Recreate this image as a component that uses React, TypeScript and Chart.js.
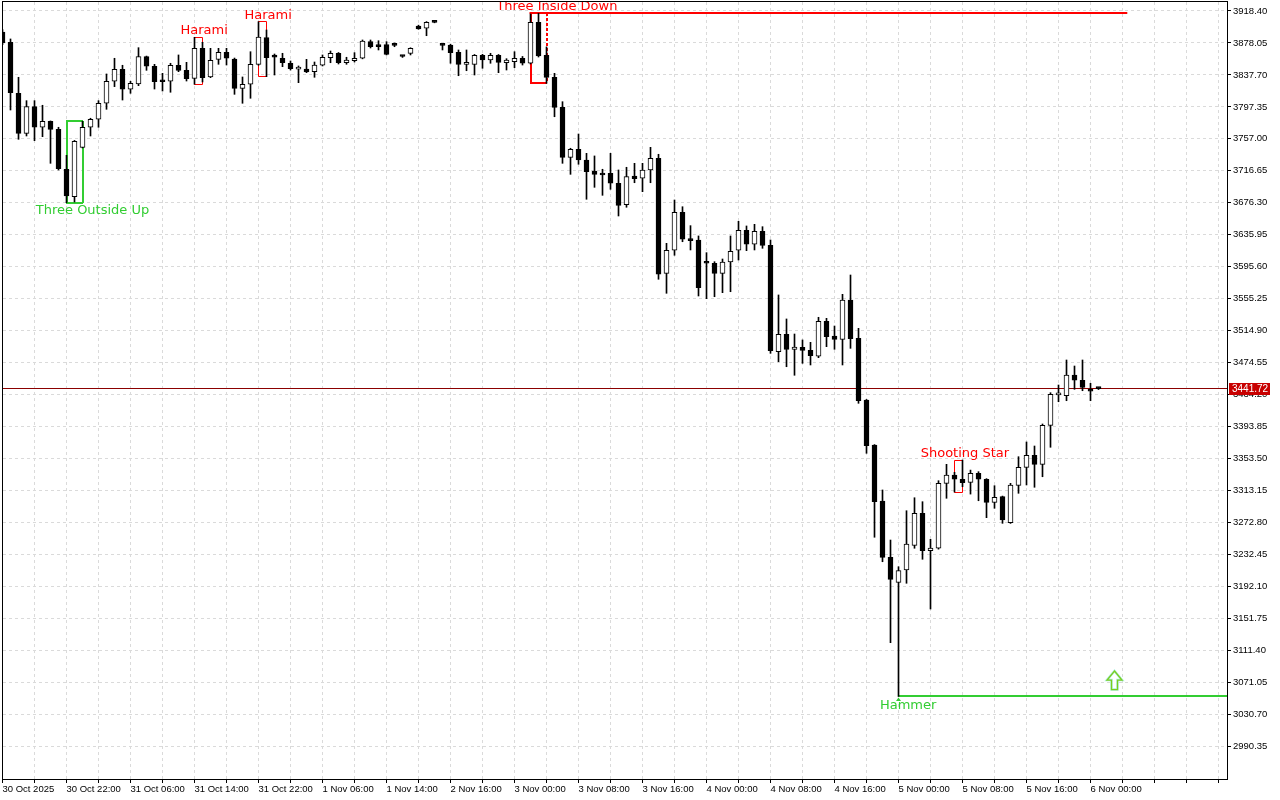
import React, { useEffect, useRef } from 'react';
import { Chart, registerables } from 'chart.js';

Chart.register(...registerables);

// ---- hourly candles (index 0 = 30 Oct 14:00) ----
const OPEN = [
  3891.9, 3878.9, 3814.5, 3764.0, 3797.6, 3771.6, 3779.2, 3769.0, 3718.6, 3683.9,
  3746.3, 3771.6, 3781.7, 3801.9, 3829.7, 3844.8, 3819.6, 3826.2, 3860.7, 3848.6,
  3829.6, 3829.7, 3849.9, 3843.5, 3833.4, 3871.3, 3835.1, 3857.4, 3866.3, 3857.8,
  3820.8, 3825.9, 3851.1, 3884.7, 3862.9, 3858.7, 3852.4, 3845.0, 3845.2, 3841.8,
  3849.9, 3859.5, 3865.0, 3853.1, 3855.7, 3858.7, 3879.7, 3875.9, 3875.9, 3877.6,
  3861.5, 3865.0, 3899.5, 3896.6, 3904.6, 3875.5, 3875.5, 3866.3, 3851.0, 3851.1,
  3862.5, 3856.5, 3862.5, 3853.1, 3854.4, 3858.7, 3852.4, 3904.1, 3862.5, 3834.7,
  3796.8, 3733.7, 3743.8, 3730.3, 3716.4, 3713.5, 3713.5, 3700.9, 3673.9, 3710.1,
  3707.2, 3717.7, 3732.4, 3587.2, 3616.3, 3664.3, 3630.5, 3629.3, 3601.5, 3599.9,
  3587.2, 3601.5, 3616.3, 3641.5, 3623.9, 3640.3, 3622.6, 3488.3, 3510.2, 3491.3,
  3493.8, 3490.0, 3482.5, 3526.7, 3508.1, 3503.9, 3553.5, 3505.2, 3427.3, 3370.5,
  3299.8, 3228.7, 3197.1, 3212.7, 3243.8, 3284.2, 3237.0, 3240.1, 3322.1, 3332.6,
  3327.2, 3323.3, 3334.6, 3327.2, 3298.1, 3305.2, 3272.4, 3319.6, 3342.3, 3357.5,
  3346.1, 3395.3, 3433.7, 3432.7, 3458.9, 3452.2, 3440.8, 3442.5,
];
const HIGH = [
  3895.0, 3883.1, 3834.7, 3805.2, 3805.2, 3799.4, 3779.6, 3771.6, 3736.2, 3755.0,
  3779.2, 3783.0, 3805.2, 3838.9, 3858.7, 3849.9, 3829.7, 3872.1, 3861.5, 3851.1,
  3839.7, 3852.4, 3862.9, 3853.6, 3885.2, 3878.9, 3871.3, 3871.3, 3871.3, 3859.0,
  3835.1, 3867.0, 3904.9, 3894.4, 3864.1, 3865.0, 3855.3, 3849.0, 3857.4, 3854.0,
  3862.9, 3867.9, 3866.0, 3860.0, 3865.8, 3881.8, 3881.8, 3880.9, 3879.7, 3878.0,
  3862.3, 3872.0, 3900.5, 3905.0, 3905.0, 3877.6, 3876.5, 3869.2, 3869.2, 3863.5,
  3863.7, 3865.0, 3863.5, 3858.2, 3867.0, 3861.0, 3914.6, 3915.5, 3873.0, 3839.7,
  3803.9, 3745.1, 3763.1, 3738.7, 3735.4, 3718.6, 3738.7, 3717.7, 3721.1, 3726.1,
  3726.1, 3746.3, 3737.5, 3625.1, 3679.8, 3671.3, 3647.4, 3634.4, 3613.3, 3601.9,
  3605.3, 3634.4, 3652.9, 3647.0, 3649.1, 3646.1, 3629.3, 3559.9, 3529.6, 3510.6,
  3503.1, 3500.1, 3531.7, 3530.4, 3520.7, 3560.7, 3585.1, 3517.8, 3428.0, 3371.0,
  3313.7, 3250.5, 3216.8, 3287.5, 3303.9, 3298.9, 3251.4, 3325.4, 3346.1, 3336.0,
  3351.5, 3338.8, 3336.8, 3328.0, 3319.1, 3306.0, 3322.1, 3355.7, 3374.3, 3369.2,
  3397.0, 3436.5, 3446.2, 3477.8, 3470.2, 3477.8, 3448.4, 3443.0,
];
const LOW = [
  3876.0, 3793.4, 3756.4, 3760.6, 3754.7, 3759.7, 3726.1, 3717.7, 3676.4, 3677.3,
  3745.5, 3760.6, 3771.6, 3794.3, 3822.9, 3806.0, 3814.5, 3824.1, 3843.5, 3819.9,
  3817.4, 3815.8, 3841.8, 3830.0, 3825.9, 3828.8, 3834.2, 3851.1, 3850.2, 3813.2,
  3801.9, 3808.2, 3849.9, 3835.5, 3837.6, 3848.1, 3843.9, 3827.9, 3840.5, 3834.7,
  3849.0, 3853.1, 3851.5, 3851.1, 3854.0, 3858.0, 3871.7, 3869.2, 3862.9, 3873.3,
  3859.8, 3862.9, 3895.3, 3887.2, 3903.5, 3869.2, 3852.4, 3836.7, 3843.0, 3837.6,
  3846.1, 3852.4, 3840.5, 3843.9, 3846.8, 3850.2, 3851.5, 3860.3, 3827.1, 3784.9,
  3726.1, 3712.2, 3724.9, 3680.7, 3695.8, 3685.7, 3693.3, 3659.6, 3670.6, 3701.6,
  3690.3, 3701.6, 3579.7, 3562.0, 3610.0, 3627.1, 3616.7, 3558.6, 3555.2, 3557.7,
  3562.8, 3564.0, 3604.0, 3615.8, 3616.7, 3618.8, 3486.2, 3475.6, 3469.3, 3458.5,
  3473.6, 3471.5, 3480.7, 3494.6, 3491.3, 3471.5, 3492.5, 3423.1, 3360.0, 3254.0,
  3223.1, 3120.9, 3053.0, 3195.9, 3240.1, 3226.2, 3163.4, 3239.0, 3303.2, 3311.1,
  3317.8, 3308.5, 3300.1, 3278.7, 3290.6, 3271.6, 3271.5, 3309.5, 3320.0, 3317.1,
  3330.4, 3367.6, 3425.1, 3426.4, 3440.8, 3439.0, 3426.4, 3440.5,
];
const CLOSE = [
  3878.0, 3815.3, 3764.0, 3797.6, 3771.6, 3779.2, 3769.0, 3719.3, 3684.8, 3753.9,
  3771.6, 3781.7, 3801.9, 3829.7, 3844.8, 3819.6, 3827.1, 3860.7, 3848.6, 3829.1,
  3829.1, 3849.9, 3843.5, 3832.9, 3871.3, 3834.2, 3856.2, 3866.3, 3858.7, 3820.8,
  3825.9, 3851.1, 3885.6, 3859.5, 3860.0, 3853.1, 3845.6, 3846.2, 3841.4, 3850.2,
  3860.0, 3865.0, 3853.1, 3856.5, 3858.7, 3880.5, 3873.3, 3873.3, 3863.7, 3875.1,
  3861.0, 3871.3, 3895.7, 3904.1, 3904.0, 3875.0, 3865.8, 3851.1, 3851.8, 3862.5,
  3856.5, 3862.5, 3853.6, 3856.5, 3858.7, 3852.4, 3904.1, 3861.6, 3834.7, 3796.8,
  3733.7, 3743.8, 3730.3, 3715.5, 3712.2, 3711.4, 3700.9, 3673.1, 3709.2, 3706.7,
  3717.7, 3732.4, 3586.0, 3616.3, 3664.3, 3630.2, 3628.4, 3569.1, 3599.9, 3587.2,
  3601.5, 3615.0, 3641.5, 3623.9, 3640.3, 3622.6, 3489.5, 3510.2, 3491.3, 3494.2,
  3490.0, 3483.2, 3526.7, 3507.2, 3503.9, 3553.5, 3504.7, 3426.4, 3369.6, 3298.9,
  3228.7, 3200.9, 3211.8, 3245.5, 3284.2, 3237.0, 3240.4, 3322.1, 3332.6, 3327.2,
  3322.8, 3334.6, 3327.2, 3298.1, 3304.4, 3275.8, 3320.0, 3342.3, 3357.5, 3346.1,
  3395.3, 3434.5, 3435.6, 3458.9, 3452.2, 3443.3, 3438.3, 3441.72,
];

// ---- axis ticks ----
const X_TICK_INDEX = [0, 8, 16, 24, 32, 40, 48, 56, 64, 72, 80, 88, 96, 104, 112, 120, 128, 136];
const X_TICK_LABELS = [
  '30 Oct 2025', '30 Oct 22:00', '31 Oct 06:00', '31 Oct 14:00', '31 Oct 22:00', '1 Nov 06:00',
  '1 Nov 14:00', '2 Nov 16:00', '3 Nov 00:00', '3 Nov 08:00', '3 Nov 16:00', '4 Nov 00:00',
  '4 Nov 08:00', '4 Nov 16:00', '5 Nov 00:00', '5 Nov 08:00', '5 Nov 16:00', '6 Nov 00:00',
];
const Y_TICKS = [
  3918.40, 3878.05, 3837.70, 3797.35, 3757.00, 3716.65, 3676.30, 3635.95, 3595.60, 3555.25,
  3514.90, 3474.55, 3434.20, 3393.85, 3353.50, 3313.15, 3272.80, 3232.45, 3192.10, 3151.75,
  3111.40, 3071.05, 3030.70, 2990.35,
];
const CURRENT_PRICE = 3441.72;

// ---- candlestick pattern marks ----
const PATTERN_NAMES = ['Three Outside Up', 'Harami', 'Harami', 'Three Inside Down', 'Shooting Star'];
const PATTERN_FIRST = [8, 24, 32, 66, 119];
const PATTERN_LAST = [10, 25, 33, 68, 120];
const PATTERN_BULLISH = [true, false, false, false, false];
const PATTERN_LABEL_AT = [11.25, 25.2, 33.2, 69.3, 120.3];
const RESISTANCE_PATTERN = 3; // Three Inside Down
const RESISTANCE_END = 140.6;
const HAMMER_INDEX = 112;
const HAMMER_LABEL_AT = 113.2;
const SIGNAL_ARROW_AT = 139;
const SIGNAL_ARROW_PRICE = 3085.1;

const GREEN = '#32cd32';
const RED = '#ff0000';
const LABEL_FONT = '13px "DejaVu Sans"';
const AXIS_FONT = { family: 'Liberation Sans', size: 9.5 };

const crisp = (v: number, w: number) => (w % 2 === 1 ? Math.round(v - 0.5) + 0.5 : Math.round(v));

const overlayPlugin = {
  id: 'mt4Overlay',
  beforeDatasetsDraw(chart: any) {
    const { ctx, chartArea: a, scales } = chart;
    const xs = scales.x;
    const ys = scales.y;
    ctx.save();
    ctx.beginPath();
    ctx.rect(a.left, a.top, a.right - a.left, a.bottom - a.top);
    ctx.clip();

    // current price line
    const py = crisp(ys.getPixelForValue(CURRENT_PRICE), 1);
    ctx.strokeStyle = '#8b0000';
    ctx.lineWidth = 1;
    ctx.beginPath();
    ctx.moveTo(a.left, py);
    ctx.lineTo(a.right, py);
    ctx.stroke();

    // pattern boxes
    PATTERN_NAMES.forEach((_name, k) => {
      const i0 = PATTERN_FIRST[k];
      const i1 = PATTERN_LAST[k];
      const hi = Math.max(...HIGH.slice(i0, i1 + 1));
      const lo = Math.min(...LOW.slice(i0, i1 + 1));
      const w = i1 - i0 >= 2 ? 2 : 1;
      const x0 = crisp(xs.getPixelForValue(i0), w);
      const x1 = crisp(xs.getPixelForValue(i1), w);
      const y0 = crisp(ys.getPixelForValue(hi), w);
      const y1 = crisp(ys.getPixelForValue(lo), w);
      ctx.strokeStyle = PATTERN_BULLISH[k] ? GREEN : RED;
      ctx.lineWidth = w;
      ctx.beginPath();
      ctx.moveTo(x1, y0);
      ctx.lineTo(x0, y0);
      ctx.lineTo(x0, y1);
      ctx.lineTo(x1, y1);
      ctx.stroke();
      if (k === RESISTANCE_PATTERN) ctx.setLineDash([3, 2]);
      ctx.beginPath();
      ctx.moveTo(x1, y0);
      ctx.lineTo(x1, y1);
      ctx.stroke();
      ctx.setLineDash([]);
    });

    // resistance line from Three Inside Down
    {
      const k = RESISTANCE_PATTERN;
      const hi = Math.max(...HIGH.slice(PATTERN_FIRST[k], PATTERN_LAST[k] + 1));
      const y = crisp(ys.getPixelForValue(hi), 2);
      ctx.strokeStyle = RED;
      ctx.lineWidth = 2;
      ctx.beginPath();
      ctx.moveTo(xs.getPixelForValue(PATTERN_FIRST[k]) - 1, y);
      ctx.lineTo(xs.getPixelForValue(RESISTANCE_END), y);
      ctx.stroke();
    }
    // support line from Hammer
    {
      const y = crisp(ys.getPixelForValue(LOW[HAMMER_INDEX]), 2);
      ctx.strokeStyle = GREEN;
      ctx.lineWidth = 2;
      ctx.beginPath();
      ctx.moveTo(xs.getPixelForValue(HAMMER_INDEX), y);
      ctx.lineTo(a.right, y);
      ctx.stroke();
    }
    ctx.restore();
  },
  afterDatasetsDraw(chart: any) {
    const { ctx, chartArea: a, scales } = chart;
    const xs = scales.x;
    const ys = scales.y;
    ctx.save();
    ctx.beginPath();
    ctx.rect(a.left, a.top, a.right - a.left, a.bottom - a.top);
    ctx.clip();
    ctx.font = LABEL_FONT;
    ctx.textAlign = 'center';
    PATTERN_NAMES.forEach((name, k) => {
      const i0 = PATTERN_FIRST[k];
      const i1 = PATTERN_LAST[k];
      const x = xs.getPixelForValue(PATTERN_LABEL_AT[k]);
      if (PATTERN_BULLISH[k]) {
        const lo = Math.min(...LOW.slice(i0, i1 + 1));
        ctx.fillStyle = GREEN;
        ctx.textBaseline = 'top';
        ctx.fillText(name, x, ys.getPixelForValue(lo) + 1.5);
      } else {
        const hi = Math.max(...HIGH.slice(i0, i1 + 1));
        ctx.fillStyle = RED;
        ctx.textBaseline = 'alphabetic';
        ctx.fillText(name, x, ys.getPixelForValue(hi) - 3);
      }
    });
    // Hammer label and marker
    {
      const yLow = ys.getPixelForValue(LOW[HAMMER_INDEX]);
      const hx = xs.getPixelForValue(HAMMER_INDEX);
      ctx.fillStyle = GREEN;
      ctx.textBaseline = 'top';
      ctx.fillText('Hammer', xs.getPixelForValue(HAMMER_LABEL_AT), yLow + 3);
      ctx.beginPath();
      ctx.moveTo(hx, yLow + 1);
      ctx.lineTo(hx - 2.5, yLow + 4.5);
      ctx.lineTo(hx + 2.5, yLow + 4.5);
      ctx.closePath();
      ctx.fill();
    }
    // signal up arrow
    {
      const cx = xs.getPixelForValue(SIGNAL_ARROW_AT);
      const ty = ys.getPixelForValue(SIGNAL_ARROW_PRICE);
      const path = () => {
        ctx.beginPath();
        ctx.moveTo(cx, ty);
        ctx.lineTo(cx + 7.5, ty + 9);
        ctx.lineTo(cx + 3, ty + 9);
        ctx.lineTo(cx + 3, ty + 18.5);
        ctx.lineTo(cx - 3, ty + 18.5);
        ctx.lineTo(cx - 3, ty + 9);
        ctx.lineTo(cx - 7.5, ty + 9);
        ctx.closePath();
      };
      path();
      ctx.fillStyle = '#ffffff';
      ctx.fill();
      ctx.strokeStyle = '#aef0e0';
      ctx.lineWidth = 2.5;
      ctx.stroke();
      ctx.strokeStyle = '#7ccd1e';
      ctx.lineWidth = 1.3;
      ctx.stroke();
    }
    ctx.restore();
  },
  afterDraw(chart: any) {
    const { ctx, chartArea: a, scales } = chart;
    const ys = scales.y;
    ctx.save();
    // frame
    ctx.strokeStyle = '#000000';
    ctx.lineWidth = 1;
    ctx.strokeRect(a.left - 0.5, a.top - 0.5, a.right - a.left + 1, a.bottom - a.top + 1);
    // current price tag
    const py = Math.round(ys.getPixelForValue(CURRENT_PRICE));
    ctx.fillStyle = '#c80000';
    ctx.fillRect(a.right + 2, py - 6, 41, 12);
    ctx.fillStyle = '#ffffff';
    ctx.font = `10px "${AXIS_FONT.family}"`;
    ctx.textAlign = 'left';
    ctx.textBaseline = 'middle';
    ctx.fillText(CURRENT_PRICE.toFixed(2), a.right + 5, py + 0.5);
    ctx.restore();
  },
};

export default function App() {
  const canvasRef = useRef<HTMLCanvasElement | null>(null);

  useEffect(() => {
    document.body.style.margin = '0';
    document.body.style.background = '#ffffff';
    const canvas = canvasRef.current;
    if (!canvas) return;

    const bodies = OPEN.map((o, i) => ({ x: i, y: [o, CLOSE[i]] }));
    const wicks = LOW.map((l, i) => ({ x: i, y: [l, HIGH[i]] }));
    const bodyColors = OPEN.map((o, i) => (CLOSE[i] < o ? '#000000' : '#ffffff'));
    const labelMap = new Map<number, string>();
    X_TICK_INDEX.forEach((idx, k) => labelMap.set(idx, X_TICK_LABELS[k]));

    const chart = new Chart(canvas, {
      type: 'bar',
      data: {
        datasets: [
          {
            label: 'body',
            data: bodies as any,
            backgroundColor: bodyColors,
            borderColor: '#000000',
            borderWidth: 1,
            borderSkipped: false,
            barThickness: 5,
            maxBarThickness: 5,
            minBarLength: 2,
            grouped: false,
            order: 0,
            clip: 0,
          } as any,
          {
            label: 'wick',
            data: wicks as any,
            backgroundColor: '#000000',
            borderWidth: 0,
            barThickness: 1,
            maxBarThickness: 1,
            minBarLength: 1,
            grouped: false,
            order: 1,
            clip: 0,
          } as any,
        ],
      },
      options: {
        responsive: false,
        animation: false,
        devicePixelRatio: 1,
        events: [],
        layout: { padding: { left: 3, top: 2, right: 0, bottom: 0 } },
        plugins: { legend: { display: false }, tooltip: { enabled: false } },
        scales: {
          x: {
            type: 'linear',
            min: 0.0625,
            max: 153.0625,
            offset: false,
            bounds: 'data',
            grid: {
              offset: false,
              color: '#dadada',
              lineWidth: 1,
              drawTicks: true,
              tickLength: 4,
              tickColor: '#000000',
            },
            border: { display: false, dash: [3, 3] },
            ticks: {
              autoSkip: false,
              maxRotation: 0,
              minRotation: 0,
              align: 'start',
              padding: 1,
              color: '#000000',
              font: AXIS_FONT,
              callback: (value: any) => labelMap.get(Number(value)) ?? '',
            },
            afterBuildTicks: (axis: any) => {
              const t = [];
              for (let v = 0; v <= 152; v += 4) t.push({ value: v });
              axis.ticks = t;
            },
            afterFit: (axis: any) => {
              axis.height = 21;
              axis.paddingLeft = 0;
              axis.paddingRight = 0;
            },
          } as any,
          y: {
            type: 'linear',
            position: 'right',
            min: 2948.8,
            max: 3929.76,
            beginAtZero: false,
            bounds: 'data',
            grid: {
              color: '#dadada',
              lineWidth: 1,
              drawTicks: true,
              tickLength: 4,
              tickColor: '#000000',
            },
            border: { display: false, dash: [3, 3] },
            ticks: {
              padding: 2,
              color: '#000000',
              font: AXIS_FONT,
              callback: (value: any) => Number(value).toFixed(2),
            },
            afterBuildTicks: (axis: any) => {
              axis.ticks = Y_TICKS.map((v) => ({ value: v }));
            },
            afterFit: (axis: any) => {
              axis.width = 53;
              axis.paddingTop = 0;
              axis.paddingBottom = 0;
            },
          } as any,
        },
      },
      plugins: [overlayPlugin],
    });
    return () => chart.destroy();
  }, []);

  return (
    <div style={{ width: 1280, height: 800, background: '#ffffff' }}>
      <canvas ref={canvasRef} width={1280} height={800} style={{ display: 'block' }} />
    </div>
  );
}
